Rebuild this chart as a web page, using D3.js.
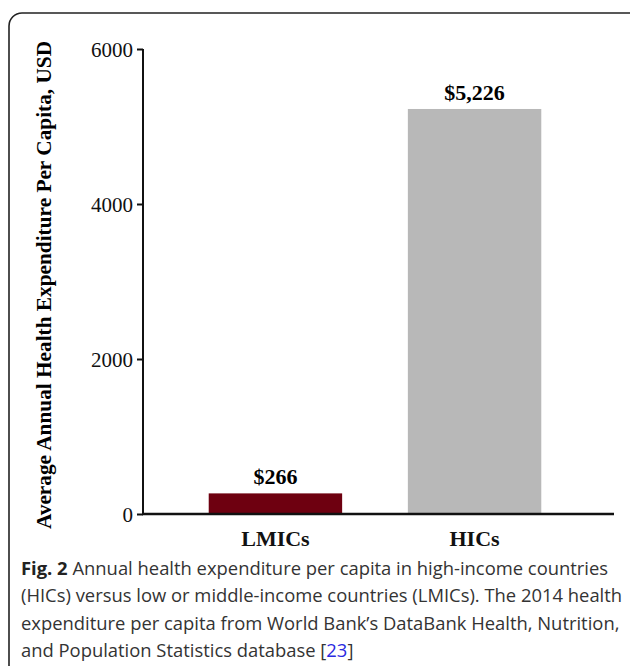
<html>
<head>
<script src='https://d3js.org/d3.v7.min.js'></script>
<style>
body { margin: 0; background: #fff; }
</style>
</head>
<body>
<svg width=630 height=666></svg>
<script>
// data
var categories = ["LMICs", "HICs"];
var values = [266, 5226];
var valueLabels = ["$266", "$5,226"];
var barColors = ["#6e0010", "#b8b8b8"];
var yTicks = [0, 2000, 4000, 6000];

var svg = d3.select("svg");

// rounded frame around the figure
svg.append("rect")
  .attr("x", 9).attr("y", 13)
  .attr("width", 640).attr("height", 680)
  .attr("rx", 13)
  .attr("fill", "none")
  .attr("stroke", "#222")
  .attr("stroke-width", 1.6);

var plotLeft = 143, plotRight = 614, plotTop = 49, plotBottom = 514;

var x = d3.scaleBand()
  .domain(categories)
  .range([plotLeft, 607])
  .paddingInner(0.33)
  .paddingOuter(0.33);

var y = d3.scaleLinear()
  .domain([0, 6000])
  .range([plotBottom, plotTop]);

// bars
svg.selectAll("rect.bar")
  .data(categories)
  .enter()
  .append("rect")
  .attr("class", "bar")
  .attr("x", function (d) { return x(d); })
  .attr("width", x.bandwidth())
  .attr("y", function (d, i) { return y(values[i]); })
  .attr("height", function (d, i) { return plotBottom - y(values[i]); })
  .attr("fill", function (d, i) { return barColors[i]; });

// value labels
svg.selectAll("text.val")
  .data(categories)
  .enter()
  .append("text")
  .attr("class", "val")
  .attr("x", function (d) { return x(d) + x.bandwidth() / 2; })
  .attr("y", function (d, i) { return y(values[i]) - 9; })
  .attr("text-anchor", "middle")
  .style("font-family", "'Liberation Serif', serif")
  .style("font-weight", "bold")
  .style("font-size", "22px")
  .text(function (d, i) { return valueLabels[i]; });

// y axis
var yAxis = svg.append("g")
  .attr("transform", "translate(" + plotLeft + ",0)")
  .call(d3.axisLeft(y).tickValues(yTicks).tickSize(6).tickPadding(4).tickFormat(d3.format("d")));
yAxis.select(".domain").attr("stroke", "#111").attr("stroke-width", 2)
  .attr("d", "M0," + plotBottom + "V" + plotTop);
yAxis.selectAll(".tick line").attr("stroke", "#111").attr("stroke-width", 2);
yAxis.selectAll(".tick text")
  .attr("dy", "0.34em")
  .style("font-family", "'Liberation Serif', serif")
  .style("font-size", "21px")
  .style("fill", "#111");

// x axis
var xAxis = svg.append("g")
  .attr("transform", "translate(0," + plotBottom + ")")
  .call(d3.axisBottom(x).tickSize(0).tickPadding(10));
xAxis.select(".domain").attr("stroke", "#111").attr("stroke-width", 2.5)
  .attr("d", "M" + (plotLeft - 1) + ",0H" + plotRight);
xAxis.selectAll(".tick text")
  .style("font-family", "'Liberation Serif', serif")
  .style("font-weight", "bold")
  .style("font-size", "22px")
  .style("fill", "#111")
  .attr("dy", "1em");

// y axis title
svg.append("text")
  .attr("transform", "translate(51,285) rotate(-90)")
  .attr("text-anchor", "middle")
  .style("font-family", "'Liberation Serif', serif")
  .style("font-weight", "bold")
  .style("font-size", "21.3px")
  .text("Average Annual Health Expenditure Per Capita, USD");

// caption
var caption = svg.append("text")
  .attr("x", 21)
  .style("font-family", "'Open Sans', sans-serif")
  .style("font-size", "18.4px")
  .style("fill", "#333");

var captionLines = [
  [["Fig. 2", "bold"], [" Annual health expenditure per capita in high-income countries", "normal"]],
  [["(HICs) versus low or middle-income countries (LMICs). The 2014 health", "normal"]],
  [["expenditure per capita from World Bank\u2019s DataBank Health, Nutrition,", "normal"]],
  [["and Population Statistics database [", "normal"], ["23", "link"], ["]", "normal"]]
];
var baselines = [575, 602, 630, 657];

captionLines.forEach(function (line, i) {
  line.forEach(function (part, j) {
    var t = caption.append("tspan").text(part[0]);
    if (j === 0) t.attr("x", 21).attr("y", baselines[i]);
    if (part[1] === "bold") t.style("font-weight", "bold").style("fill", "#222");
    if (part[1] === "link") t.style("fill", "#2a2ae0");
  });
});
</script>
</body>
</html>
